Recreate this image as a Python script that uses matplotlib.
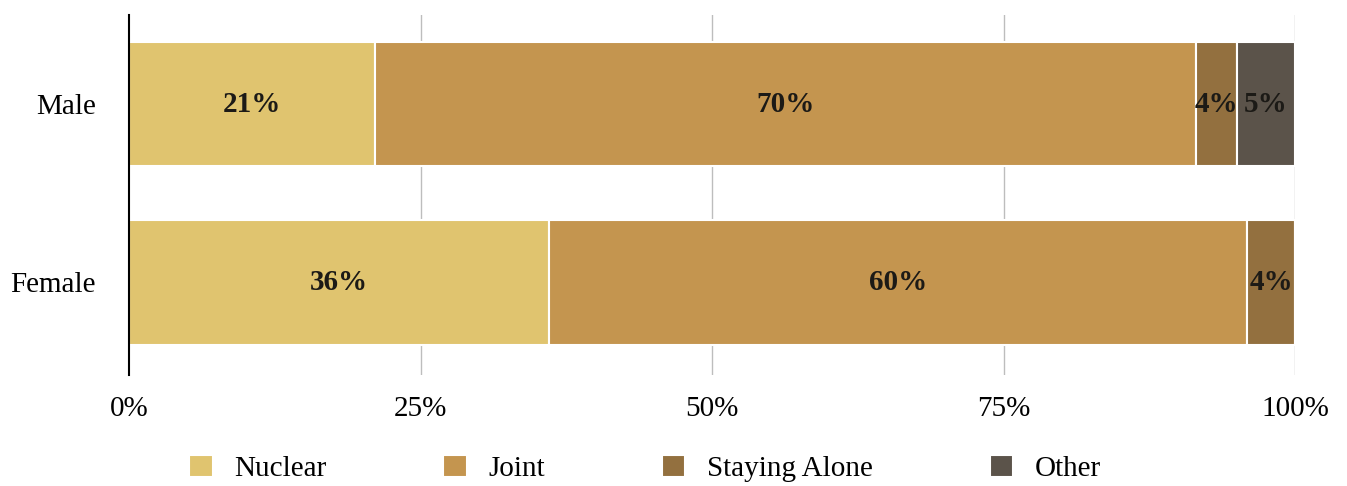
import numpy as np
import matplotlib.pyplot as plt

plt.rcParams['font.family'] = ['Liberation Serif', 'DejaVu Serif']

groups = ['Female', 'Male']
categories = ['Nuclear', 'Joint', 'Staying Alone', 'Other']
colors = ['#E0C46F', '#C4954F', '#93703F', '#5B534A']

# share of each living arrangement (%)
male = [21.1, 70.4, 3.5, 5.0]
female = [36.0, 59.9, 4.1, 0.0]
ticks = [0, 25, 50, 75, 100]


def main():
    fig = plt.figure(figsize=(13.47, 4.86), dpi=100)
    ax = fig.add_axes([0.0958, 0.2284, 0.8656, 0.7407])

    data = np.array([female, male])
    y = np.arange(len(groups))
    left = np.zeros(len(groups))
    for i, cat in enumerate(categories):
        vals = data[:, i]
        bars = ax.barh(y, vals, left=left, height=0.7, color=colors[i],
                       edgecolor='white', linewidth=1.5, label=cat, zorder=3)
        for b, v in zip(bars, vals):
            if v > 0:
                ax.text(b.get_x() + b.get_width() / 2, b.get_y() + b.get_height() / 2,
                        f'{v:.0f}%', ha='center', va='center', fontsize=21,
                        fontweight='bold', color='#1c1a16', zorder=4)
        left += vals

    ax.set_xlim(0, 100)
    ax.set_ylim(-0.52, 1.5)
    ax.set_yticks(y)
    ax.set_yticklabels(groups, fontsize=21)
    ax.set_xticks(ticks)
    ax.set_xticklabels([f'{t}%' for t in ticks], fontsize=21)
    ax.tick_params(axis='both', length=0)
    ax.tick_params(axis='x', pad=15)
    ax.tick_params(axis='y', pad=24)
    for t in ticks[1:]:
        ax.axvline(t, color='#bdbdbd', linewidth=1, zorder=1)
    for s in ['top', 'right', 'bottom']:
        ax.spines[s].set_visible(False)
    ax.spines['left'].set_color('black')
    ax.spines['left'].set_linewidth(1.5)
    ax.spines['left'].set_zorder(5)

    fig.legend(loc='center', bbox_to_anchor=(0.479, 0.036), ncol=4, frameon=False,
               fontsize=21, handlelength=0.8, handleheight=0.8,
               handletextpad=0.75, columnspacing=4.0)

    fig.savefig('out.png', dpi=100)


if __name__ == '__main__':
    main()
